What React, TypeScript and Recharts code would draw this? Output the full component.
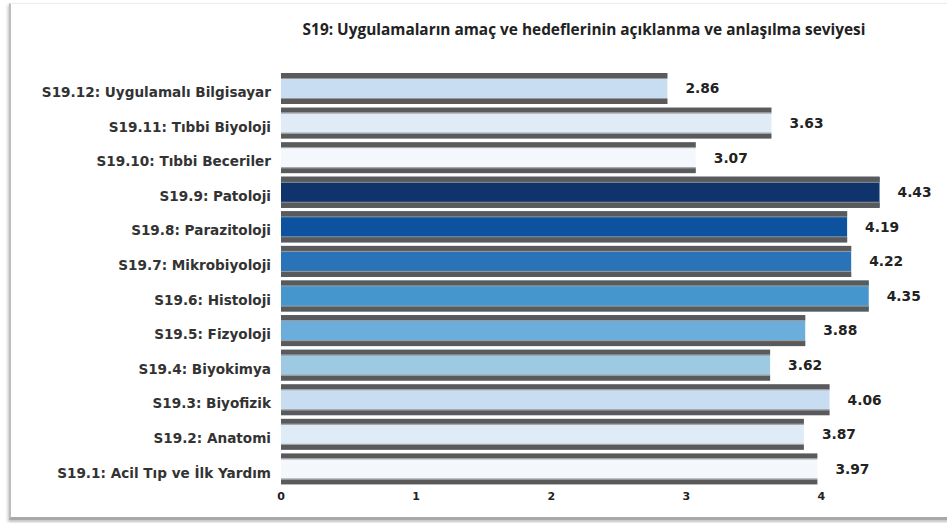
import { BarChart, Bar, XAxis, YAxis, Cell, LabelList } from "recharts";

const categories = [
    "S19.12: Uygulamalı Bilgisayar",
    "S19.11: Tıbbi Biyoloji",
    "S19.10: Tıbbi Beceriler",
    "S19.9: Patoloji",
    "S19.8: Parazitoloji",
    "S19.7: Mikrobiyoloji",
    "S19.6: Histoloji",
    "S19.5: Fizyoloji",
    "S19.4: Biyokimya",
    "S19.3: Biyofizik",
    "S19.2: Anatomi",
    "S19.1: Acil Tıp ve İlk Yardım",
];

const scores = [2.86, 3.63, 3.07, 4.43, 4.19, 4.22, 4.35, 3.88, 3.62, 4.06, 3.87, 3.97];

const xTicks = [0, 1, 2, 3, 4];

const title = "S19: Uygulamaların amaç ve hedeflerinin açıklanma ve anlaşılma seviyesi";

const barColors = [
    "#c8ddf1",
    "#e0ebf8",
    "#f4f8fd",
    "#10336b",
    "#0d529f",
    "#2a73b8",
    "#4596cc",
    "#6baedb",
    "#9dc9e2",
    "#c8ddf1",
    "#e0ebf8",
    "#f4f8fd",
];

const data = categories.map((name, i) => ({ name, score: scores[i] }));

const labelFont = "'DejaVu Sans', Verdana, sans-serif";

// bar with the dark top and bottom bands seen in the reference
function BandedBar(props: any) {
    const { x, y, width, height, fill } = props;
    if (!width || width <= 0) return null;
    const strip = 5;
    return (
        <g>
            <rect x={x} y={y} width={width} height={height} fill={fill} />
            <rect x={x} y={y} width={width} height={strip} fill="#5a5a5a" />
            <rect x={x} y={y + strip} width={width} height={1} fill="#9a9a9a" />
            <rect x={x} y={y + height - strip} width={width} height={strip} fill="#5a5a5a" />
            <rect x={x} y={y + height - strip - 1} width={width} height={1} fill="#9a9a9a" />
        </g>
    );
}

// category labels sit a little below the bar centre in the reference
function CategoryTick(props: any) {
    const { x, y, payload } = props;
    return (
        <text
            x={x}
            y={y + 4}
            dy="0.355em"
            textAnchor="end"
            fill="#333"
            fontSize={13.6}
            fontWeight={700}
            fontFamily={labelFont}
        >
            {payload.value}
        </text>
    );
}

export default function App() {
    return (
        <div style={{ position: "absolute", left: 0, top: 0, width: 947, height: 523, background: "#fff", overflow: "hidden" }}>
            <div
                style={{
                    position: "absolute",
                    left: 9,
                    top: 3,
                    width: 960,
                    height: 513,
                    borderLeft: "2px solid #bdbdbd",
                    borderBottom: "3px solid #a8a8a8",
                    borderTop: "1px solid #eeeeee",
                    boxShadow: "-1px 2px 3px rgba(0,0,0,0.25)",
                }}
            />
            <div
                style={{
                    position: "absolute",
                    top: 19,
                    left: 284,
                    width: 600,
                    textAlign: "center",
                    fontFamily: "'Open Sans', sans-serif",
                    fontWeight: 700,
                    fontSize: 15.4,
                    color: "#222",
                    whiteSpace: "nowrap",
                }}
            >
                {title}
            </div>
            <div style={{ position: "absolute", left: 0, top: 0 }}>
                <BarChart
                    width={947}
                    height={523}
                    data={data}
                    layout="vertical"
                    margin={{ top: 71, right: 58, bottom: 17, left: 20 }}
                    barSize={31}
                >
                    <XAxis
                        type="number"
                        domain={[0, 4.5]}
                        ticks={xTicks}
                        axisLine={false}
                        tickLine={false}
                        tickSize={0}
                        tickMargin={6}
                        height={20}
                        tick={{ fill: "#222", fontSize: 11, fontWeight: 700, fontFamily: labelFont }}
                    />
                    <YAxis
                        type="category"
                        dataKey="name"
                        width={261}
                        axisLine={false}
                        tickLine={false}
                        tickSize={0}
                        tickMargin={10}
                        interval={0}
                        tick={<CategoryTick />}
                    />
                    <Bar dataKey="score" shape={<BandedBar />} isAnimationActive={false}>
                        {data.map((entry, index) => (
                            <Cell key={`cell-${index}`} fill={barColors[index]} />
                        ))}
                        <LabelList
                            dataKey="score"
                            position="right"
                            offset={18}
                            formatter={(v: any) => Number(v).toFixed(2)}
                            style={{ fill: "#222", fontSize: 13.8, fontWeight: 700, fontFamily: labelFont }}
                        />
                    </Bar>
                </BarChart>
            </div>
        </div>
    );
}
